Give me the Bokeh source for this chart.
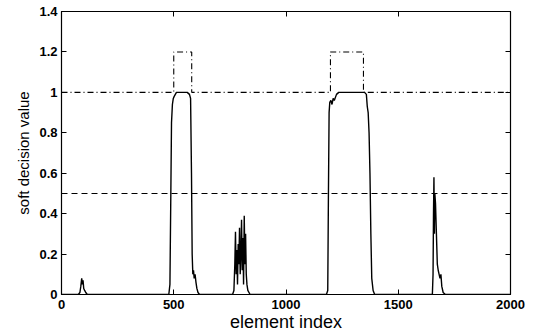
from bokeh.plotting import figure
from bokeh.models import FixedTicker, Range1d, CustomJSTickFormatter, LinearAxis
from bokeh.embed import file_html
from bokeh.resources import INLINE

# ---- data ----
x_index = [0, 75, 82, 86, 90, 93, 96, 99, 103, 108, 115,
           478, 483, 487, 490, 494, 498, 502, 507, 512, 520, 560, 570, 575, 579, 582, 585, 588, 591, 595, 599, 603, 608, 615,
           762, 768, 772, 775, 778, 781, 784, 787, 790, 793, 796, 799, 802, 805, 808, 811, 814, 817, 820, 823, 826, 830, 840,
           1180, 1186, 1189, 1192, 1195, 1200, 1205, 1210, 1215, 1225, 1235, 1350, 1358, 1362, 1366, 1370, 1374, 1378, 1382, 1388, 1395,
           1645, 1652, 1655, 1657, 1659, 1661, 1663, 1666, 1670, 1674, 1678, 1682, 1686, 1690, 1694, 1700, 1710, 2000]
soft_value = [0, 0, 0.01, 0.04, 0.08, 0.05, 0.07, 0.03, 0.02, 0.01, 0,
              0, 0.05, 0.5, 0.85, 0.94, 0.97, 0.98, 0.99, 1.0, 1.0, 1.0, 0.99, 0.97, 0.6, 0.2, 0.1, 0.12, 0.08, 0.1, 0.06, 0.03, 0.01, 0,
              0, 0.02, 0.15, 0.31, 0.1, 0.22, 0.05, 0.25, 0.15, 0.33, 0.1, 0.2, 0.37, 0.12, 0.28, 0.05, 0.39, 0.15, 0.3, 0.1, 0.05, 0.02, 0,
              0, 0.02, 0.5, 0.9, 0.95, 0.96, 0.94, 0.97, 0.96, 0.99, 1.0, 1.0, 0.99, 0.93, 0.9, 0.8, 0.6, 0.3, 0.08, 0.02, 0,
              0, 0, 0.1, 0.4, 0.58, 0.3, 0.5, 0.45, 0.3, 0.15, 0.12, 0.1, 0.08, 0.1, 0.04, 0.01, 0, 0]

# reference level with the two pulses (dash-dot)
ref_x = [0, 500, 500, 580, 580, 1198, 1198, 1345, 1345, 2000]
ref_y = [1, 1, 1.2, 1.2, 1, 1, 1.2, 1.2, 1, 1]

threshold_x = [0, 2000]
threshold_y = [0.5, 0.5]

x_ticks = [0, 500, 1000, 1500, 2000]
y_ticks = [0, 0.2, 0.4, 0.6, 0.8, 1.0, 1.2, 1.4]

FONT = "Liberation Sans"

p = figure(width=528, height=334, output_backend="svg", toolbar_location=None,
           x_range=Range1d(0, 2000), y_range=Range1d(0, 1.4),
           min_border_left=61, min_border_right=18, min_border_top=11, min_border_bottom=40,
           x_axis_label="element index", y_axis_label="soft decision value")
p.grid.visible = False
p.outline_line_color = "black"
p.outline_line_width = 1.2
p.background_fill_color = "white"
p.border_fill_color = "white"

fmt = CustomJSTickFormatter(code="return (Math.round(tick*10)/10).toString();")
blank = CustomJSTickFormatter(code="return '';")

bottom = p.below[0]
left = p.left[0]

# mirrored tick-only axes (box style)
right = LinearAxis(ticker=FixedTicker(ticks=y_ticks), formatter=blank)
top = LinearAxis(ticker=FixedTicker(ticks=x_ticks), formatter=blank)
p.add_layout(right, "right")
p.add_layout(top, "above")

bottom.ticker = FixedTicker(ticks=x_ticks)
left.ticker = FixedTicker(ticks=y_ticks)
left.formatter = fmt

for ax in [bottom, left, right, top]:
    ax.major_tick_in = 5
    ax.major_tick_out = 0
    ax.minor_tick_in = 0
    ax.minor_tick_out = 0
    ax.axis_line_color = "black"
    ax.major_tick_line_color = "black"
    ax.major_label_text_font = FONT
    ax.major_label_text_font_size = "13px"
    ax.major_label_text_color = "black"
    ax.major_label_text_font_style = "bold"
    ax.axis_label_text_font = FONT
    ax.axis_label_text_font_style = "normal"
    ax.axis_label_text_color = "black"
    ax.major_label_standoff = 5

for ax in [right, top]:
    ax.major_label_standoff = 0

bottom.axis_label_text_font_size = "18px"
left.axis_label_text_font_size = "15px"
bottom.axis_label_standoff = 0
left.axis_label_standoff = 4
left.major_label_standoff = 4
left.major_label_orientation = "horizontal"

p.line(ref_x, ref_y, line_color="black", line_width=1.1, line_dash="6 3 1 3")
p.line(threshold_x, threshold_y, line_color="black", line_width=1.1, line_dash="6 4")
p.line(x_index, soft_value, line_color="black", line_width=1.4)

open("out.html", "w").write(file_html(p, INLINE))
